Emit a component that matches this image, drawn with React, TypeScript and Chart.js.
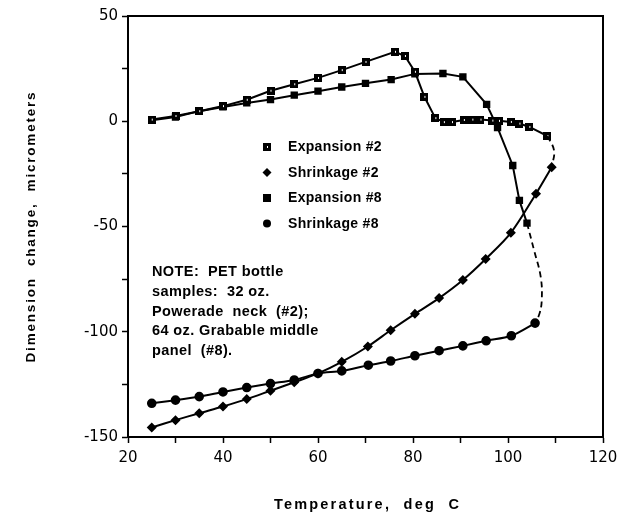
import React, { useEffect, useRef } from "react";
import { Chart, registerables } from "chart.js";

Chart.register(...registerables);

// ---------- data ----------
const seriesNames = ["Expansion #2", "Shrinkage #2", "Expansion #8", "Shrinkage #8"];

const exp2Temp = [25, 30, 35, 40, 45, 50, 55, 60, 65, 70, 76.2, 78.3, 80.4, 82.4, 84.7, 86.5, 88.2, 90.7, 92.5, 94.2, 96.7, 98.1, 100.6, 102.4, 104.5, 108.3];
const exp2Val = [0.8, 2.5, 4.8, 7.2, 10.2, 14.5, 17.6, 20.6, 24.3, 28.2, 33, 31, 23.5, 11.6, 1.5, -0.4, -0.4, 0.6, 0.8, 0.8, 0.3, 0.2, -0.3, -1.1, -2.7, -7];

const shr2Temp = [109.2, 105.9, 100.6, 95.3, 90.5, 85.5, 80.4, 75.3, 70.5, 65, 60, 55, 50, 45, 40, 35, 30, 25];
const shr2Val = [-21.8, -34.4, -53, -65.4, -75.4, -84, -91.5, -99.3, -107, -114.3, -119.8, -124, -128, -132, -135.5, -138.7, -142, -145.5];

const exp8Temp = [25, 30, 35, 40, 45, 50, 55, 60, 65, 70, 75.4, 80.4, 86.3, 90.5, 95.5, 97.8, 101, 102.4, 104];
const exp8Val = [0.5, 2, 4.8, 6.8, 8.7, 10.3, 12.4, 14.3, 16.3, 18, 19.8, 22.5, 22.7, 21.1, 8, -3, -21, -37.6, -48.4];

const shr8Temp = [105.7, 100.7, 95.4, 90.5, 85.5, 80.4, 75.3, 70.6, 65, 60, 55, 50, 45, 40, 35, 30, 25];
const shr8Val = [-95.9, -101.9, -104.3, -106.7, -109, -111.4, -113.9, -115.9, -118.6, -119.8, -122.9, -124.6, -126.5, -128.6, -130.8, -132.5, -134];

// dashed transition curves (expansion end -> shrinkage start)
const link2Temp = [108.3, 109.7, 109.2];
const link2Val = [-7, -14, -21.8];
const link8Temp = [104, 105.5, 106.9, 107.1, 106.6, 105.7];
const link8Val = [-48.4, -61.4, -74.1, -85.2, -91.6, -95.9];

const xTickLabels = [20, 40, 60, 80, 100, 120];
const yTickLabels = [50, 0, -50, -100, -150];

const xTitle = "Temperature,  deg  C";
const yTitle = "Dimension  change,  micrometers";
const noteLines = [
  "NOTE:  PET bottle",
  "samples:  32 oz.",
  "Powerade  neck  (#2);",
  "64 oz. Grabable middle",
  "panel  (#8).",
];

const zip = (xs: number[], ys: number[]) => xs.map((x, i) => ({ x, y: ys[i] }));

export default function App() {
  const ref = useRef<HTMLCanvasElement | null>(null);

  useEffect(() => {
    if (!ref.current) return;

    const boxed = document.createElement("canvas");
    boxed.width = 8;
    boxed.height = 8;
    const bctx = boxed.getContext("2d")!;
    bctx.fillStyle = "#000";
    bctx.fillRect(0, 0, 8, 8);
    bctx.fillStyle = "#fff";
    bctx.fillRect(4, 3, 1, 2);

    const overlay = {
      id: "overlay",
      afterDraw(chart: any) {
        const ctx = chart.ctx as CanvasRenderingContext2D;
        const a = chart.chartArea;
        ctx.save();
        // frame
        ctx.strokeStyle = "#000";
        ctx.lineWidth = 2;
        ctx.strokeRect(a.left, a.top, a.right - a.left, a.bottom - a.top);

        // legend
        const lx = 267;
        const ly0 = 147;
        const lstep = 25.5;
        ctx.fillStyle = "#000";
        seriesNames.forEach((name, i) => {
          const y = ly0 + i * lstep;
          if (i === 0) {
            ctx.drawImage(boxed, lx - 4, y - 4);
          } else if (i === 1) {
            ctx.beginPath();
            ctx.moveTo(lx, y - 4.5);
            ctx.lineTo(lx + 4.5, y);
            ctx.lineTo(lx, y + 4.5);
            ctx.lineTo(lx - 4.5, y);
            ctx.closePath();
            ctx.fill();
          } else if (i === 2) {
            ctx.fillRect(lx - 4, y - 4, 8, 8);
          } else {
            ctx.beginPath();
            ctx.arc(lx, y, 4, 0, Math.PI * 2);
            ctx.fill();
          }
          (ctx as any).letterSpacing = "0.3px";
          ctx.font = "bold 14px 'Liberation Sans', Arial, sans-serif";
          ctx.textAlign = "left";
          ctx.textBaseline = "middle";
          ctx.fillText(name, 288, y + 0.5);
        });

        // note
        (ctx as any).letterSpacing = "0.4px";
        ctx.font = "bold 14.5px 'Liberation Sans', Arial, sans-serif";
        ctx.textAlign = "left";
        ctx.textBaseline = "middle";
        noteLines.forEach((line, i) => {
          ctx.fillText(line, 152, 272 + i * 19.8);
        });

        // axis titles
        (ctx as any).letterSpacing = "2.2px";
        ctx.font = "bold 14.5px 'Liberation Sans', Arial, sans-serif";
        ctx.textAlign = "center";
        ctx.fillText(xTitle, (a.left + a.right) / 2 + 2, 505);

        (ctx as any).letterSpacing = "1.8px";
        ctx.font = "bold 13.5px 'Liberation Sans', Arial, sans-serif";
        ctx.translate(31, (a.top + a.bottom) / 2);
        ctx.rotate(-Math.PI / 2);
        ctx.fillText(yTitle, 0, 0);
        ctx.restore();
      },
    };

    const lineBase = {
      showLine: true,
      borderColor: "#000",
      backgroundColor: "#000",
      pointBackgroundColor: "#000",
      pointBorderColor: "#000",
      borderWidth: 2,
    };

    const chart = new Chart(ref.current, {
      type: "scatter",
      data: {
        datasets: [
          { ...lineBase, label: "link2", data: zip(link2Temp, link2Val), borderDash: [6, 4], borderWidth: 1.8, pointRadius: 0, tension: 0.4 },
          { ...lineBase, label: "link8", data: zip(link8Temp, link8Val), borderDash: [6, 4], borderWidth: 1.8, pointRadius: 0, tension: 0.4 },
          { ...lineBase, label: seriesNames[0], data: zip(exp2Temp, exp2Val), pointStyle: boxed, pointRadius: 4, tension: 0 },
          { ...lineBase, label: seriesNames[1], data: zip(shr2Temp, shr2Val), pointStyle: "rectRot", pointRadius: 3.6, tension: 0.3 },
          { ...lineBase, label: seriesNames[2], data: zip(exp8Temp, exp8Val), pointStyle: "rect", pointRadius: 3.8, tension: 0 },
          { ...lineBase, label: seriesNames[3], data: zip(shr8Temp, shr8Val), pointStyle: "circle", pointRadius: 3.8, tension: 0.3 },
        ],
      },
      options: {
        animation: false,
        responsive: true,
        maintainAspectRatio: false,
        layout: { padding: { top: 16, right: 21, left: 0, bottom: 0 } },
        plugins: { legend: { display: false }, tooltip: { enabled: false } },
        scales: {
          x: {
            type: "linear",
            min: 20,
            max: 120,
            afterFit: (s: any) => {
              s.height = 80;
            },
            ticks: {
              stepSize: 10,
              color: "#000",
              padding: 6,
              font: { family: "'DejaVu Sans', sans-serif", size: 15 },
              maxRotation: 0,
              autoSkip: false,
              callback: (v: any) => (xTickLabels.includes(Number(v)) ? String(v) : ""),
            },
            grid: { drawOnChartArea: false, drawTicks: true, tickLength: 6, color: "#000", tickWidth: 1.5 },
            border: { display: true, color: "#000", width: 2 },
          },
          y: {
            type: "linear",
            min: -150,
            max: 50,
            afterFit: (s: any) => {
              s.width = 128;
            },
            ticks: {
              stepSize: 25,
              color: "#000",
              padding: 4,
              font: { family: "'DejaVu Sans', sans-serif", size: 15 },
              autoSkip: false,
              callback: (v: any) => (yTickLabels.includes(Number(v)) ? String(v) : ""),
            },
            grid: { drawOnChartArea: false, drawTicks: true, tickLength: 6, color: "#000", tickWidth: 1.5 },
            border: { display: true, color: "#000", width: 2 },
          },
        },
      },
      plugins: [overlay],
    });

    return () => chart.destroy();
  }, []);

  return (
    <div style={{ position: "fixed", left: 0, top: 0, width: 624, height: 517, background: "#fff" }}>
      <canvas ref={ref} />
    </div>
  );
}
